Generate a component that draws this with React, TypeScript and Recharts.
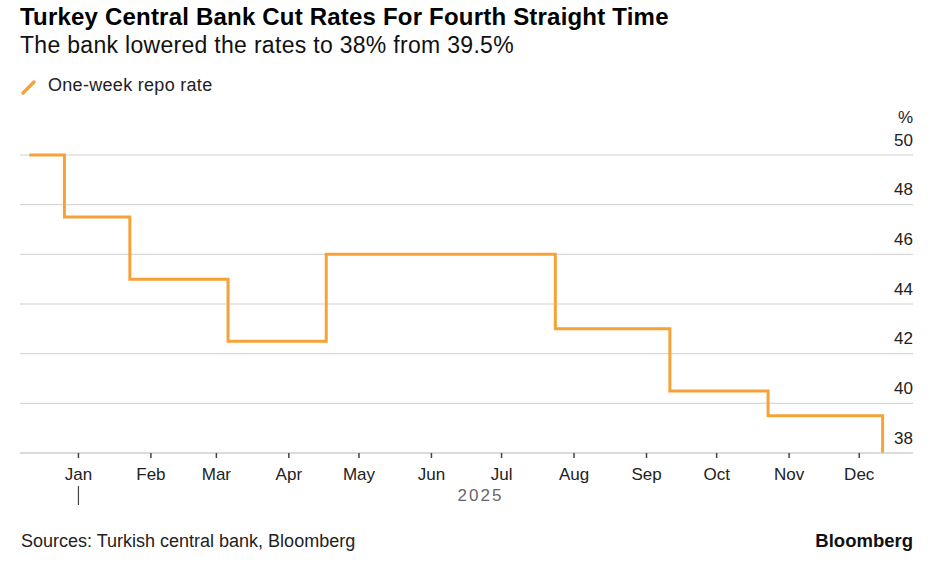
import { CartesianGrid, Line, LineChart, XAxis, YAxis } from "recharts";

const changeDates = [
  "2024-12-11",
  "2024-12-26",
  "2025-01-23",
  "2025-03-06",
  "2025-04-17",
  "2025-07-24",
  "2025-09-11",
  "2025-10-23",
  "2025-12-11",
];
const repoRate = [50, 47.5, 45, 42.5, 46, 43, 40.5, 39.5, 38];

const monthTicks = [
  "2025-01-01",
  "2025-02-01",
  "2025-03-01",
  "2025-04-01",
  "2025-05-01",
  "2025-06-01",
  "2025-07-01",
  "2025-08-01",
  "2025-09-01",
  "2025-10-01",
  "2025-11-01",
  "2025-12-01",
];
const monthLabels = ["Jan", "Feb", "Mar", "Apr", "May", "Jun", "Jul", "Aug", "Sep", "Oct", "Nov", "Dec"];
const yTicks = [38, 40, 42, 44, 46, 48, 50];
const xDomain = ["2024-12-07", "2025-12-24"];

const toTs = (d: string) => Date.parse(d + "T00:00:00Z");

const data = changeDates.map((d, i) => ({ t: toTs(d), rate: repoRate[i] }));
const tickTs = monthTicks.map(toTs);
// year label sits midway between Jan 1 and the last observation
const yearTs = (tickTs[0] + data[data.length - 1].t) / 2;

const FONT = "'Liberation Sans', Arial, sans-serif";
const ORANGE = "#F6A236";

function XTick(props: any) {
  const { x, y, payload } = props;
  const v = payload.value;
  if (v === yearTs) {
    return (
      <text x={x} y={y + 42} textAnchor="middle" dominantBaseline="central" fill="#666" fontSize={17} fontFamily={FONT} letterSpacing={2}>
        2025
      </text>
    );
  }
  const idx = tickTs.indexOf(v);
  return (
    <g>
      <line x1={x} x2={x} y1={y} y2={y + 5} stroke="#444" strokeWidth={1.5} />
      <text x={x} y={y + 21} textAnchor="middle" dominantBaseline="central" fill="#222" fontSize={17} fontFamily={FONT}>
        {monthLabels[idx]}
      </text>
      {idx === 0 && <line x1={x} x2={x} y1={y + 33} y2={y + 52} stroke="#444" strokeWidth={1.2} />}
    </g>
  );
}

function YTick(props: any) {
  const { y, payload } = props;
  const x = 913;
  return (
    <g>
      <text x={x} y={y - 15} textAnchor="end" dominantBaseline="central" fill="#222" fontSize={17} fontFamily={FONT}>
        {payload.value}
      </text>
      {payload.value === 50 && (
        <text x={x} y={y - 38} textAnchor="end" dominantBaseline="central" fill="#222" fontSize={17} fontFamily={FONT}>
          %
        </text>
      )}
    </g>
  );
}

export default function App() {
  return (
    <div style={{ position: "absolute", left: 0, top: 0, width: 936, height: 568, background: "#fff", fontFamily: FONT }}>
      <div style={{ position: "absolute", left: 20, top: 3, fontSize: 24, fontWeight: 700, letterSpacing: 0.2, color: "#000", whiteSpace: "nowrap" }}>
        Turkey Central Bank Cut Rates For Fourth Straight Time
      </div>
      <div style={{ position: "absolute", left: 20, top: 32, fontSize: 23, letterSpacing: 0.3, color: "#111", whiteSpace: "nowrap" }}>
        The bank lowered the rates to 38% from 39.5%
      </div>
      <div style={{ position: "absolute", left: 20, top: 75, display: "flex", alignItems: "center", fontSize: 18, letterSpacing: 0.3, color: "#222" }}>
        <svg width={18} height={20}>
          <line x1={3} y1={17} x2={14} y2={6} stroke={ORANGE} strokeWidth={3.5} strokeLinecap="round" />
        </svg>
        <span style={{ marginLeft: 10 }}>One-week repo rate</span>
      </div>
      <div style={{ position: "absolute", left: 0, top: 0 }}>
        <LineChart width={936} height={520} data={data} margin={{ top: 155, right: 22, bottom: 7, left: 20 }}>
          <CartesianGrid vertical={false} stroke="#cfcfcf" strokeWidth={1} />
          <XAxis
            dataKey="t"
            type="number"
            domain={[toTs(xDomain[0]), toTs(xDomain[1])]}
            ticks={[...tickTs, yearTs]}
            interval={0}
            height={60}
            tickSize={0}
            tickMargin={0}
            tickLine={false}
            axisLine={{ stroke: "#cfcfcf" }}
            tick={<XTick />}
          />
          <YAxis
            orientation="right"
            width={1}
            domain={[38, 50]}
            ticks={yTicks}
            interval={0}
            tickSize={0}
            tickMargin={0}
            axisLine={false}
            tickLine={false}
            tick={<YTick />}
          />
          <Line
            type="stepAfter"
            dataKey="rate"
            stroke={ORANGE}
            strokeWidth={3}
            dot={false}
            isAnimationActive={false}
          />
        </LineChart>
      </div>
      <div style={{ position: "absolute", left: 21, top: 531, fontSize: 18, color: "#222" }}>
        Sources: Turkish central bank, Bloomberg
      </div>
      <div style={{ position: "absolute", right: 23, top: 530, fontSize: 18.5, fontWeight: 700, color: "#111" }}>
        Bloomberg
      </div>
    </div>
  );
}
